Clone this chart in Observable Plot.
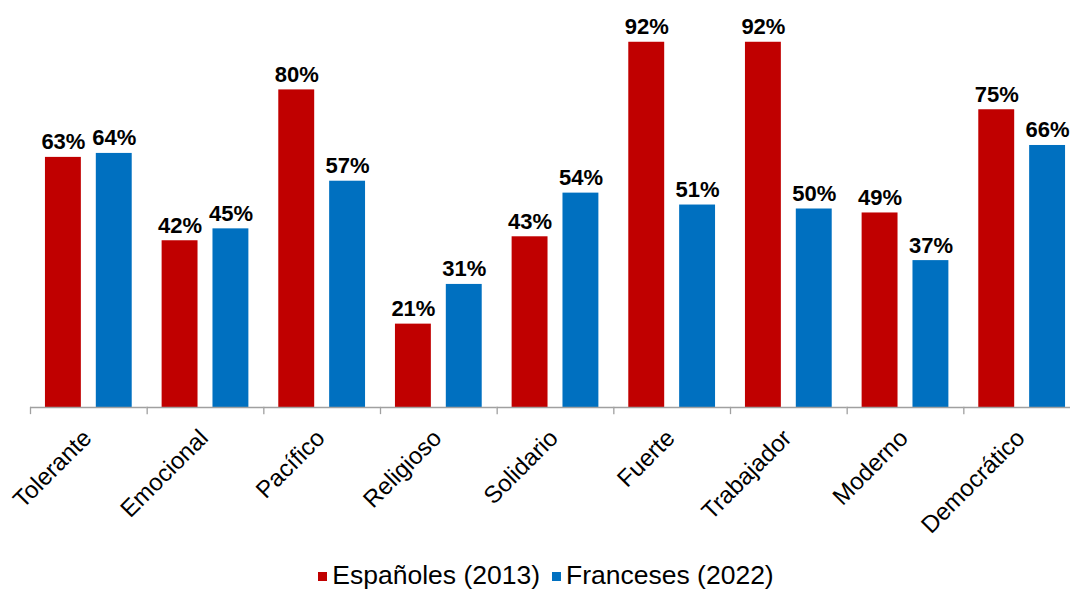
<!DOCTYPE html>
<html>
<head>
<meta charset="utf-8">
<script src="https://cdn.jsdelivr.net/npm/d3@7"></script>
<script src="https://cdn.jsdelivr.net/npm/@observablehq/plot@0.6"></script>
<style>
  html, body { margin: 0; padding: 0; background: #fff; }
  body { width: 1070px; height: 589px; overflow: hidden; font-family: "Liberation Sans", Arial, sans-serif; }
  #legend { display: flex; justify-content: center; align-items: center; font-size: 26.5px; color: #000; height: 30px; margin-top: 10px; padding-left: 22px; }
  .item { display: flex; align-items: center; }
  .sw { width: 9px; height: 9px; margin-right: 5px; margin-top: 2px; }
  .item + .item { margin-left: 12px; }
</style>
</head>
<body>
<div id="chart"></div>
<div id="legend"></div>
<script>
const categories = ["Tolerante", "Emocional", "Pacífico", "Religioso", "Solidario", "Fuerte", "Trabajador", "Moderno", "Democrático"];
const series = ["Españoles (2013)", "Franceses (2022)"];
const espanoles = [63, 42, 80, 21, 43, 92, 92, 49, 75];
const franceses = [64, 45, 57, 31, 54, 51, 50, 37, 66];
const colors = ["#C00000", "#0070C0"];

const data = [];
categories.forEach((c, i) => {
  data.push({cat: c, serie: series[0], value: espanoles[i]});
  data.push({cat: c, serie: series[1], value: franceses[i]});
});

const font = "'Liberation Sans', Arial, sans-serif";

const plot = Plot.plot({
  width: 1070,
  height: 550,
  marginTop: 10,
  marginBottom: 143,
  marginLeft: 30,
  marginRight: 4,
  style: {fontFamily: font, background: "#fff"},
  fx: {domain: categories, range: [30, 1080], padding: 0, round: false, axis: null},
  x: {domain: series, padding: 0.294, round: false, axis: null},
  y: {domain: [0, 100], axis: null},
  color: {domain: series, range: colors},
  marks: [
    Plot.barY(data, {fx: "cat", x: "serie", y: "value", fill: "serie"}),
    Plot.ruleY([0], {stroke: "#a0a0a0", strokeWidth: 1.3}),
    Plot.frame({anchor: "left", stroke: "#a0a0a0", strokeWidth: 1.3, insetTop: 397, insetBottom: -6}),
    Plot.text(data, {fx: "cat", x: "serie", y: "value", text: d => d.value + "%", lineAnchor: "bottom", dy: -8, fontSize: 22, fontWeight: "bold", fill: "#000"}),
    Plot.text(categories, {fx: d => d, text: d => d, frameAnchor: "bottom", rotate: -45, textAnchor: "end", lineAnchor: "bottom", dx: 4, dy: 32, fontSize: 24, fill: "#000"})
  ]
});
document.getElementById("chart").appendChild(plot);

const legend = document.getElementById("legend");
series.forEach((s, i) => {
  const item = document.createElement("div");
  item.className = "item";
  const sw = document.createElement("span");
  sw.className = "sw";
  sw.style.background = colors[i];
  const t = document.createElement("span");
  t.textContent = s;
  item.appendChild(sw);
  item.appendChild(t);
  legend.appendChild(item);
});
</script>
</body>
</html>
